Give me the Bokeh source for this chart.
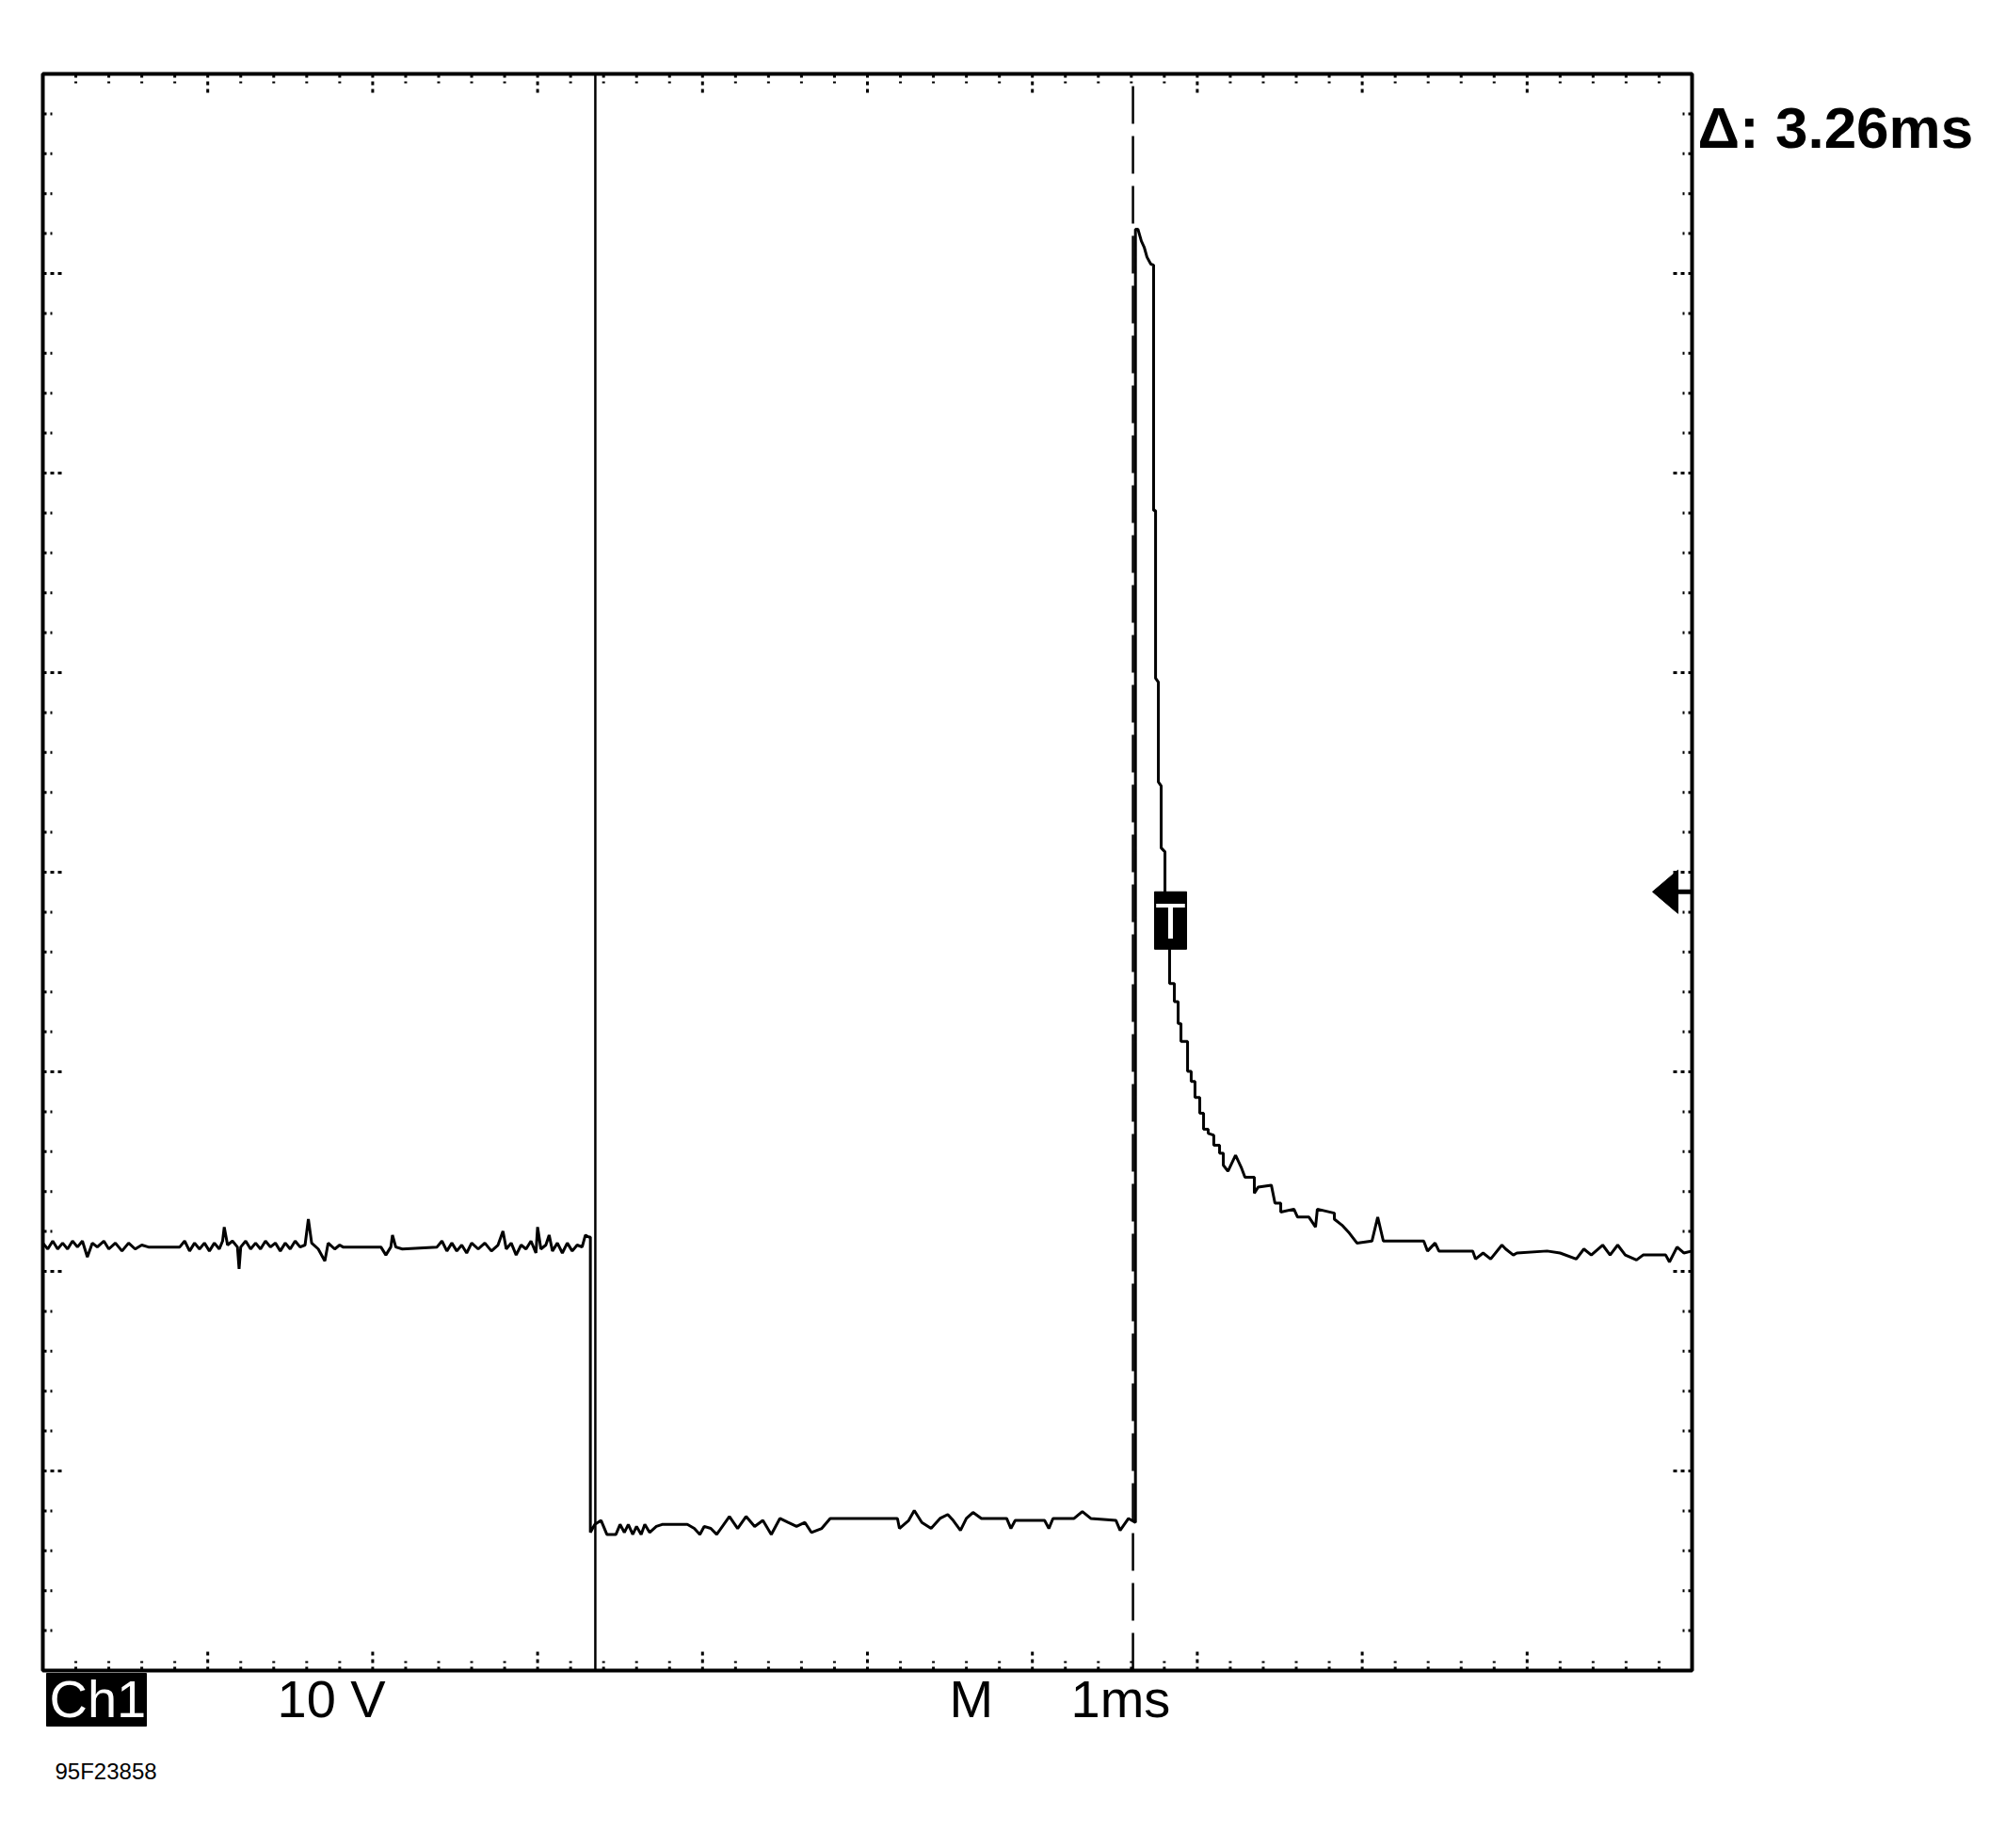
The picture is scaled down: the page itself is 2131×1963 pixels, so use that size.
from bokeh.plotting import figure
from bokeh.models import Range1d
from bokeh.core.properties import value
from bokeh.embed import file_html
from bokeh.resources import INLINE

# ---------------- data (time in ms, voltage in V; 1 ms/div, 10 V/div) ----------------
time_divs = 10
volt_divs = 8
ms_per_div = 1.0
volts_per_div = 10.0
screen_bottom_v = -7.22          # ground reference sits 0.72 div above the bottom edge

cursor1_ms = 3.35
cursor2_ms = 6.61
trigger_ms = 6.838
trigger_level_v = 31.8

# segment 1: battery voltage before the injector opens
base_t = [0.00, 0.03, 0.06, 0.09, 0.12, 0.15, 0.18, 0.21, 0.24, 0.27, 0.30, 0.33, 0.37, 0.40,
          0.44, 0.48, 0.52, 0.56, 0.60, 0.64, 0.83, 0.86, 0.89, 0.92, 0.95, 0.98, 1.01, 1.04,
          1.07, 1.09, 1.10, 1.12, 1.15, 1.18, 1.19, 1.20, 1.23, 1.26, 1.29, 1.32, 1.35, 1.38,
          1.41, 1.44, 1.47, 1.50, 1.53, 1.56, 1.59, 1.61, 1.63, 1.67, 1.71, 1.73, 1.77, 1.80,
          1.82, 2.05, 2.08, 2.11, 2.12, 2.14, 2.18, 2.39, 2.42, 2.45, 2.48, 2.51, 2.54, 2.57,
          2.60, 2.64, 2.68, 2.72, 2.76, 2.79, 2.81, 2.84, 2.87, 2.90, 2.93, 2.96, 2.99, 3.00,
          3.02, 3.05, 3.07, 3.09, 3.12, 3.15, 3.18, 3.21, 3.24, 3.27, 3.29, 3.31, 3.32]
base_v = [14.2, 13.9, 14.3, 13.9, 14.2, 13.9, 14.3, 14.0, 14.3, 13.5, 14.2, 14.0, 14.3, 13.9,
          14.2, 13.8, 14.2, 13.9, 14.1, 14.0, 14.0, 14.3, 13.8, 14.2, 13.9, 14.2, 13.8, 14.2,
          13.9, 14.3, 15.0, 14.1, 14.3, 14.0, 12.9, 14.0, 14.3, 13.9, 14.2, 13.9, 14.3, 14.0,
          14.2, 13.8, 14.2, 13.9, 14.3, 14.0, 14.1, 15.4, 14.2, 13.9, 13.3, 14.2, 13.9, 14.1,
          14.0, 14.0, 13.6, 14.0, 14.6, 14.0, 13.9, 14.0, 14.3, 13.8, 14.2, 13.8, 14.1, 13.7,
          14.2, 13.9, 14.2, 13.8, 14.1, 14.8, 13.9, 14.2, 13.6, 14.1, 13.9, 14.3, 13.7, 15.0,
          13.9, 14.1, 14.6, 13.8, 14.2, 13.7, 14.2, 13.8, 14.1, 14.0, 14.6, 14.5, 14.5]

# segment 2: injector driver switched on (near ground)
on_t = [3.32, 3.347, 3.385, 3.42, 3.475, 3.50, 3.526, 3.55, 3.577, 3.60, 3.628, 3.65, 3.679,
        3.72, 3.755, 3.908, 3.95, 3.984, 4.010, 4.05, 4.086, 4.163, 4.213, 4.264, 4.316,
        4.366, 4.417, 4.469, 4.519, 4.570, 4.621, 4.66, 4.723, 4.774, 5.182, 5.194, 5.25,
        5.284, 5.33, 5.386, 5.44, 5.487, 5.52, 5.564, 5.60, 5.640, 5.691, 5.844, 5.870,
        5.896, 6.074, 6.100, 6.125, 6.253, 6.303, 6.354, 6.507, 6.532, 6.583, 6.625]
on_v = [-0.3, 0.1, 0.3, -0.4, -0.4, 0.1, -0.3, 0.1, -0.4, 0.0, -0.4, 0.1, -0.3,
        0.0, 0.1, 0.1, -0.1, -0.4, 0.0, -0.1, -0.4, 0.5, -0.1, 0.5, 0.0,
        0.3, -0.4, 0.4, 0.2, 0.0, 0.2, -0.3, -0.1, 0.4, 0.4, -0.1, 0.3,
        0.8, 0.2, -0.1, 0.4, 0.6, 0.3, -0.2, 0.4, 0.7, 0.4, 0.4, -0.1,
        0.3, 0.3, -0.1, 0.4, 0.4, 0.75, 0.4, 0.3, -0.2, 0.4, 0.2]

# segment 3: inductive spike when the injector closes, decaying back to battery voltage
spike_t = [6.625, 6.640, 6.661, 6.678, 6.695, 6.718, 6.735, 6.735, 6.747, 6.747, 6.764, 6.764,
           6.781, 6.781, 6.804, 6.804, 6.832, 6.832, 6.861, 6.861, 6.884, 6.884, 6.901, 6.901,
           6.941, 6.941, 6.963, 6.963, 6.986, 6.986, 7.015, 7.015, 7.038, 7.038, 7.066, 7.066,
           7.100, 7.100, 7.135, 7.135, 7.158, 7.158, 7.186, 7.232, 7.266, 7.289, 7.346, 7.346,
           7.369, 7.449, 7.471, 7.506, 7.506, 7.586, 7.608, 7.677, 7.717, 7.728, 7.831, 7.831,
           7.877, 7.922, 7.968, 8.059, 8.094, 8.128, 8.373, 8.396, 8.442, 8.465, 8.670, 8.687,
           8.733, 8.779, 8.847, 8.870, 8.916, 8.938, 9.121, 9.20, 9.298, 9.344, 9.389, 9.458,
           9.503, 9.549, 9.595, 9.663, 9.703, 9.840, 9.863, 9.909, 9.95, 10.0]
spike_v = [65.0, 65.0, 64.4, 64.1, 63.6, 63.25, 63.2, 50.9, 50.9, 42.5, 42.3, 37.3,
           37.1, 34.0, 33.8, 30.5, 30.0, 27.2, 27.2, 26.3, 26.3, 25.2, 25.2, 24.3,
           24.3, 22.8, 22.8, 22.3, 22.3, 21.5, 21.5, 20.7, 20.7, 19.9, 19.9, 19.7,
           19.6, 19.1, 19.1, 18.7, 18.7, 18.1, 17.8, 18.6, 18.0, 17.5, 17.5, 16.7,
           17.0, 17.1, 16.2, 16.2, 15.75, 15.9, 15.5, 15.5, 15.0, 15.9, 15.7, 15.4,
           15.1, 14.7, 14.2, 14.3, 15.5, 14.3, 14.3, 13.8, 14.2, 13.8, 13.8, 13.4,
           13.7, 13.4, 14.1, 13.9, 13.6, 13.7, 13.8, 13.7, 13.4, 13.9, 13.6, 14.1,
           13.6, 14.1, 13.6, 13.35, 13.6, 13.6, 13.25, 14.0, 13.7, 13.8]

channel_label = "Ch1"
volts_label = "10 V"
timebase_prefix = "M"
timebase_label = "1ms"
figure_id = "95F23858"

# ---------------- geometry (screen) ----------------
W, H = 2110, 1920                 # canvas
FRAME_W, FRAME_H = 1752, 1696     # graticule size in px
LEFT_PX, TOP_PX = 45, 78          # graticule offset inside the canvas
RIGHT_PX = W - LEFT_PX - FRAME_W
BOTTOM_PX = H - TOP_PX - FRAME_H

x0, x1 = 0.0, time_divs * ms_per_div
y0 = screen_bottom_v
y1 = screen_bottom_v + volt_divs * volts_per_div
ppx = FRAME_W / (x1 - x0)         # px per ms
ppv = FRAME_H / (y1 - y0)         # px per volt

p = figure(width=W, height=H,
           x_range=Range1d(x0 - LEFT_PX / ppx, x1 + RIGHT_PX / ppx),
           y_range=Range1d(y0 - BOTTOM_PX / ppv, y1 + TOP_PX / ppv),
           output_backend="svg", toolbar_location=None,
           x_axis_type=None, y_axis_type=None, min_border=0)
p.background_fill_color = "white"
p.border_fill_color = "white"
p.outline_line_color = None

# ---------------- waveform ----------------
trace_t = base_t + on_t + spike_t
trace_v = base_v + on_v + spike_v
p.line(trace_t, trace_v, line_color="black", line_width=3)

# ---------------- cursors ----------------
p.segment(x0=[cursor1_ms], y0=[y0], x1=[cursor1_ms], y1=[y1], line_color="black", line_width=2.5)
p.segment(x0=[cursor2_ms], y0=[y0], x1=[cursor2_ms], y1=[y1], line_color="black", line_width=2.5,
          line_dash="40 13")

# ---------------- graticule: frame + edge ticks ----------------
p.quad(left=[x0], right=[x1], bottom=[y0], top=[y1], fill_color=None,
       line_color="black", line_width=4)

x_major = [x0 + i * ms_per_div for i in range(1, time_divs)]
x_minor = [x0 + i * ms_per_div / 5 for i in range(1, time_divs * 5) if i % 5]
y_major = [y0 + i * volts_per_div for i in range(1, volt_divs)]
y_minor = [y0 + i * volts_per_div / 5 for i in range(1, volt_divs * 5) if i % 5]

MINOR_LEN, MAJOR_LEN = 10, 22
tick_style = dict(line_color="black", line_width=3, line_dash="4 4")
for ticks, length in ((x_minor, MINOR_LEN), (x_major, MAJOR_LEN)):
    p.segment(x0=ticks, y0=[y1] * len(ticks), x1=ticks, y1=[y1 - length / ppv] * len(ticks), **tick_style)
    p.segment(x0=ticks, y0=[y0] * len(ticks), x1=ticks, y1=[y0 + length / ppv] * len(ticks), **tick_style)
for ticks, length in ((y_minor, MINOR_LEN), (y_major, MAJOR_LEN)):
    p.segment(x0=[x0] * len(ticks), y0=ticks, x1=[x0 + length / ppx] * len(ticks), y1=ticks, **tick_style)
    p.segment(x0=[x1] * len(ticks), y0=ticks, x1=[x1 - length / ppx] * len(ticks), y1=ticks, **tick_style)

# ---------------- trigger position marker "T" ----------------
sans = value("Liberation Sans")
box_cy = trigger_level_v - 30.5 / ppv
p.rect(x=[trigger_ms], y=[box_cy], width=34, height=61, width_units="screen",
       height_units="screen", fill_color="black", line_color="black")
p.text(x=[trigger_ms], y=[box_cy], text=["T"], text_color="white",
       text_font=sans, text_font_size="54px",
       text_align="center", text_baseline="middle")

# ---------------- trigger level arrow on the right edge ----------------
p.patch(x=[x1 - 42 / ppx, x1 - 15 / ppx, x1 - 15 / ppx],
        y=[trigger_level_v, trigger_level_v + 23 / ppv, trigger_level_v - 23 / ppv],
        fill_color="black", line_color="black", line_width=1)
p.segment(x0=[x1 - 16 / ppx], y0=[trigger_level_v], x1=[x1], y1=[trigger_level_v],
          line_color="black", line_width=5)

# ---------------- readouts ----------------
delta = f"\u0394: {cursor2_ms - cursor1_ms:.2f}ms"
p.text(x=[x1 + 6 / ppx], y=[y1 - 57 / ppv], text=[delta], text_color="black",
       text_font=sans, text_font_size="62px", text_font_style="bold",
       text_align="left", text_baseline="middle")

p.quad(left=[x0 + 4 / ppx], right=[x0 + 110 / ppx], top=[y0 - 3 / ppv], bottom=[y0 - 59 / ppv],
       fill_color="black", line_color="black")
mid_y = y0 - 30 / ppv
for lx, txt, col in ((7, channel_label, "white"), (249, volts_label, "black"),
                     (963, timebase_prefix, "black"), (1092, timebase_label, "black")):
    p.text(x=[x0 + lx / ppx], y=[mid_y], text=[txt], text_color=col,
           text_font=sans, text_font_size="56px", text_align="left", text_baseline="middle")
p.text(x=[x0 + 13 / ppx], y=[y0 - 107 / ppv], text=[figure_id], text_color="black",
       text_font=sans, text_font_size="24px",
       text_align="left", text_baseline="middle")

open("out.html", "w").write(file_html(p, INLINE))
